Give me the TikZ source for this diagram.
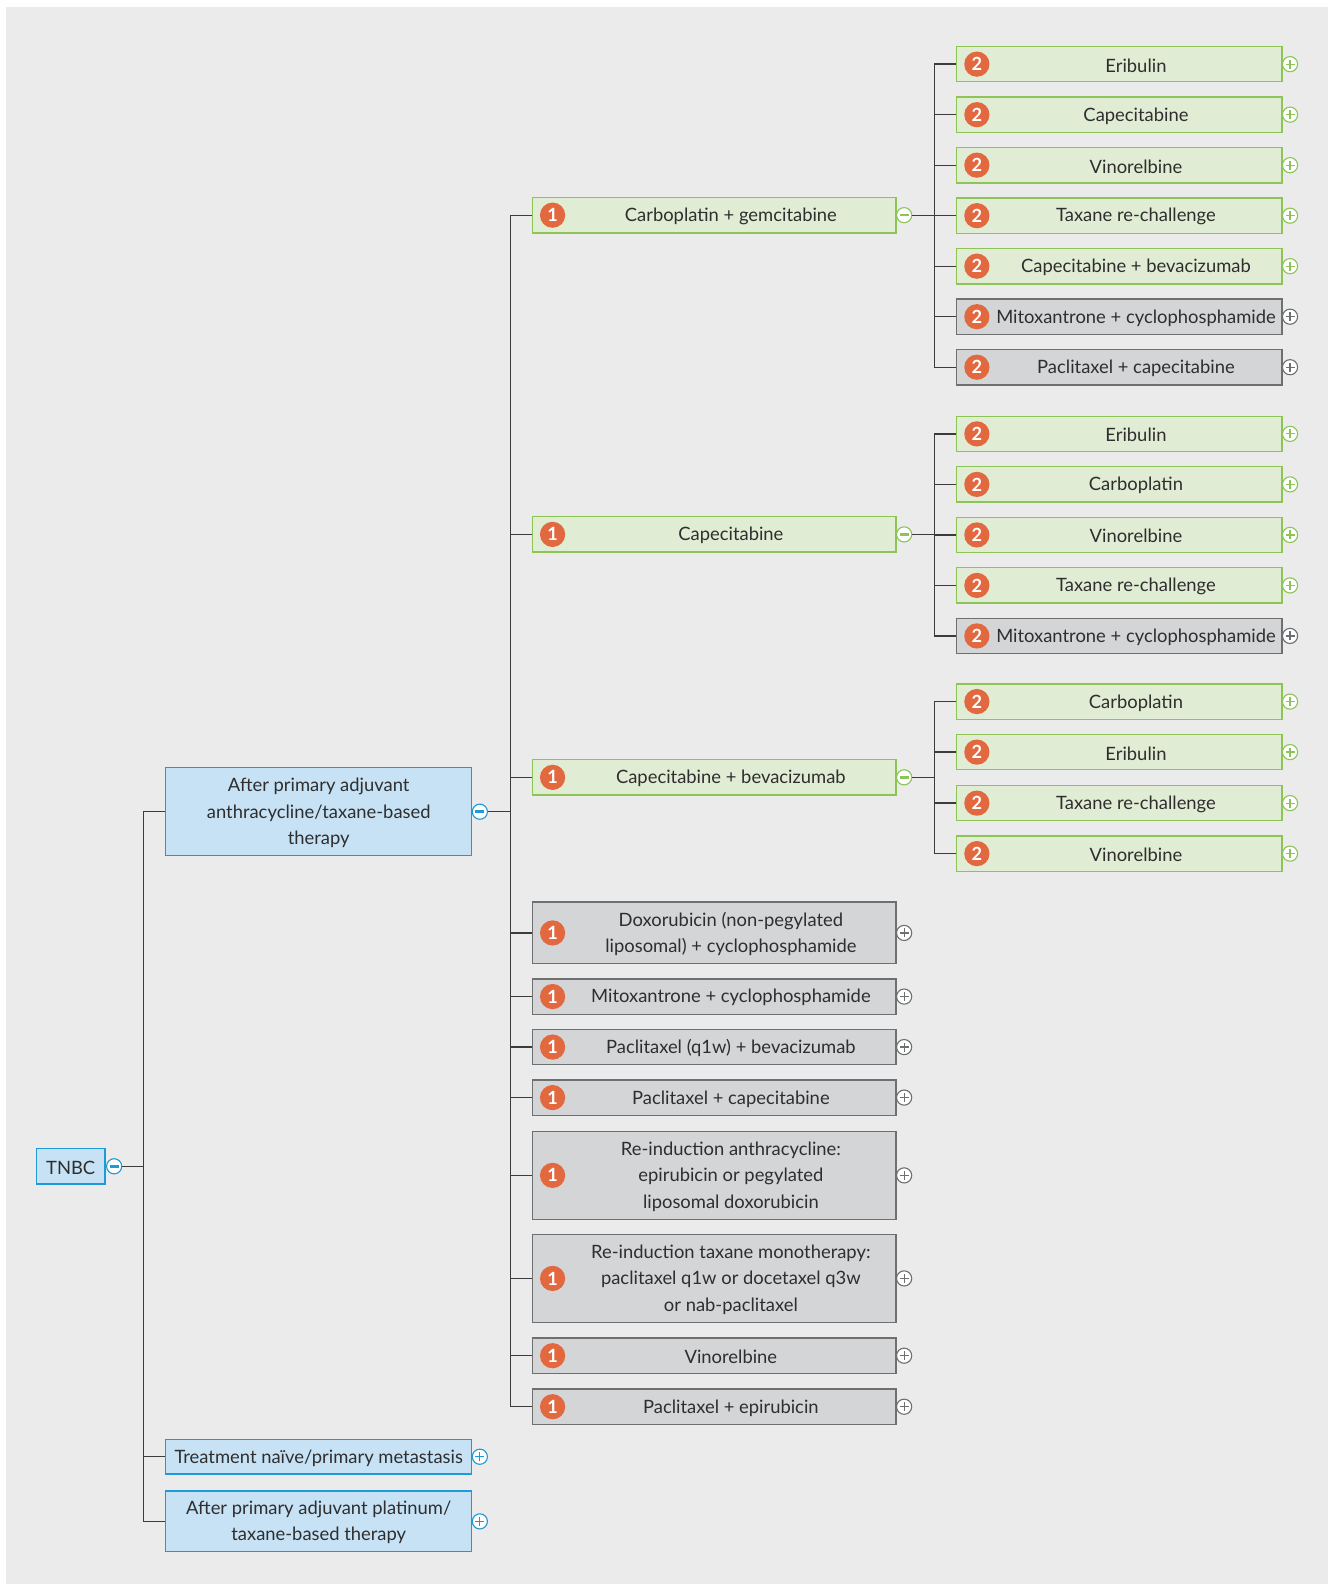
\documentclass[tikz,border=0pt]{standalone}
\usepackage{fontspec}
\setmainfont{Lato}
\definecolor{bg}{HTML}{EAEBEA}
\definecolor{gfill}{HTML}{E0ECD3}
\definecolor{gline}{HTML}{8CC456}
\definecolor{kfill}{HTML}{D4D5D7}
\definecolor{kline}{HTML}{6E6F71}
\definecolor{bfill}{HTML}{C7E2F5}
\definecolor{bline}{HTML}{1E9AD8}
\definecolor{badgec}{HTML}{E2683F}
\definecolor{txtc}{HTML}{2E2E2E}
\definecolor{connc}{HTML}{3C3C3C}
\newcommand\Lthree[4]{% name, y, colour, text
  \node[box#3, minimum width=322, minimum height=35] (#1) at (1108,#2) {};
  \node[txt] (#1x) at (1124.5,#2) {#4};
  \node[badge] (#1n) at (967,#2) {2};
  \node[tog#3plus] (#1t) at (1277,#2) {};
}
\newcommand\Ltwo[6]{% name, y, height, colour, sign, text
  \node[box#4, minimum width=360, minimum height=#3] (#1) at (707,#2) {};
  \node[txt] (#1x) at (723.5,#2) {#6};
  \node[badge] (#1n) at (547,#2) {1};
  \node[tog#4#5] (#1t) at (895,#2) {};
}
\begin{document}
\begin{tikzpicture}[x=1pt,y=-1pt,
  txt/.style={align=center, text=txtc, font=\fontsize{18.2}{26}\selectfont, inner sep=0, yshift=-1.2pt},
  boxbase/.style={rectangle, line width=1.3pt, inner sep=0},
  boxg/.style={boxbase, draw=gline, fill=gfill},
  boxk/.style={boxbase, draw=kline, fill=kfill},
  boxb/.style={boxbase, draw=bline, fill=bfill},
  badge/.style={circle, fill=badgec, text=white, minimum size=25, inner sep=0,
    font=\fontsize{18}{18}\selectfont\bfseries},
  togbase/.style={circle, fill=white, line width=1.1pt, minimum size=15, inner sep=0},
  plussign/.style={path picture={\draw[#1,line width=1.2pt]
      ([xshift=-4.5pt]path picture bounding box.center) -- ([xshift=4.5pt]path picture bounding box.center)
      ([yshift=-4.5pt]path picture bounding box.center) -- ([yshift=4.5pt]path picture bounding box.center);}},
  minussign/.style={path picture={\draw[#1,line width=2.6pt]
      ([xshift=-4.5pt]path picture bounding box.center) -- ([xshift=4.5pt]path picture bounding box.center);}},
  toggplus/.style={togbase, draw=gline, plussign=gline},
  toggminus/.style={togbase, draw=gline, minussign=gline},
  togkplus/.style={togbase, draw=kline, plussign=kline},
  togbplus/.style={togbase, draw=bline, plussign=bline},
  togbminus/.style={togbase, draw=bline, minussign=bline},
  conn/.style={draw=connc, line width=1.3pt},
]
\useasboundingbox (0,0) rectangle (1315,1568);
\fill[bg] (6,7) rectangle (1315,1568);

\coordinate (v1) at (142,1154.5);
\coordinate (v2) at (505,803.5);
\coordinate (v3a) at (925,213);
\coordinate (v3b) at (925,529);
\coordinate (v3c) at (925,769.5);

% ---------- level 0 / 1
\node[boxb, minimum width=68, minimum height=35] (tnbc) at (70,1154.5) {};
\node[txt] (tnbcx) at (70,1154.5) {TNBC};
\node[togbminus] (tnbct) at (113,1154.5) {};

\node[boxb, minimum width=303, minimum height=87] (A) at (315.5,803.5) {};
\node[txt] (Ax) at (315.5,803.5) {After primary adjuvant\\anthracycline/taxane-based\\therapy};
\node[togbminus] (At) at (475,803.5) {};

\node[boxb, minimum width=303, minimum height=34] (B) at (315.5,1442) {};
\node[txt] (Bx) at (315.5,1442) {Treatment naïve/primary metastasis};
\node[togbplus] (Bt) at (475,1442) {};

\node[boxb, minimum width=303, minimum height=60] (C) at (315.5,1506) {};
\node[txt] (Cx) at (315.5,1506) {After primary adjuvant platinum/\\taxane-based therapy};
\node[togbplus] (Ct) at (475,1506) {};

% ---------- level 2
\Ltwo{c1}{213}{35}{g}{minus}{Carboplatin + gemcitabine}
\Ltwo{c2}{529}{35}{g}{minus}{Capecitabine}
\Ltwo{c3}{769.5}{35}{g}{minus}{Capecitabine + bevacizumab}
\Ltwo{d1}{923.5}{61}{k}{plus}{Doxorubicin (non-pegylated\\liposomal) + cyclophosphamide}
\Ltwo{d2}{986.5}{35}{k}{plus}{Mitoxantrone + cyclophosphamide}
\Ltwo{d3}{1036.5}{35}{k}{plus}{Paclitaxel (q1w) + bevacizumab}
\Ltwo{d4}{1086.5}{35}{k}{plus}{Paclitaxel + capecitabine}
\Ltwo{d5}{1163.5}{87}{k}{plus}{Re-induction anthracycline:\\epirubicin or pegylated\\liposomal doxorubicin}
\Ltwo{d6}{1265.5}{87}{k}{plus}{Re-induction taxane monotherapy:\\paclitaxel q1w or docetaxel q3w\\or nab-paclitaxel}
\Ltwo{d7}{1342}{35}{k}{plus}{Vinorelbine}
\Ltwo{d8}{1392.5}{35}{k}{plus}{Paclitaxel + epirubicin}

% ---------- level 3
\Lthree{e1}{63.5}{g}{Eribulin}
\Lthree{e2}{113.5}{g}{Capecitabine}
\Lthree{e3}{163.5}{g}{Vinorelbine}
\Lthree{e4}{213.5}{g}{Taxane re-challenge}
\Lthree{e5}{263.5}{g}{Capecitabine + bevacizumab}
\Lthree{e6}{313.5}{k}{Mitoxantrone + cyclophosphamide}
\Lthree{e7}{363.5}{k}{Paclitaxel + capecitabine}

\Lthree{f1}{429.5}{g}{Eribulin}
\Lthree{f2}{479.5}{g}{Carboplatin}
\Lthree{f3}{529.5}{g}{Vinorelbine}
\Lthree{f4}{579.5}{g}{Taxane re-challenge}
\Lthree{f5}{629.5}{k}{Mitoxantrone + cyclophosphamide}

\Lthree{h1}{694.5}{g}{Carboplatin}
\Lthree{h2}{744.5}{g}{Eribulin}
\Lthree{h3}{795}{g}{Taxane re-challenge}
\Lthree{h4}{845}{g}{Vinorelbine}

% ---------- connectors
\draw[conn] (tnbct.east) -- (v1);
\foreach \n in {A,B,C} \draw[conn] (v1) |- (\n.west);
\draw[conn] (At.east) -- (v2);
\foreach \n in {c1,c2,c3,d1,d2,d3,d4,d5,d6,d7,d8} \draw[conn] (v2) |- (\n.west);
\draw[conn] (c1t.east) -- (v3a);
\foreach \n in {e1,e2,e3,e4,e5,e6,e7} \draw[conn] (v3a) |- (\n.west);
\draw[conn] (c2t.east) -- (v3b);
\foreach \n in {f1,f2,f3,f4,f5} \draw[conn] (v3b) |- (\n.west);
\draw[conn] (c3t.east) -- (v3c);
\foreach \n in {h1,h2,h3,h4} \draw[conn] (v3c) |- (\n.west);
\end{tikzpicture}
\end{document}
